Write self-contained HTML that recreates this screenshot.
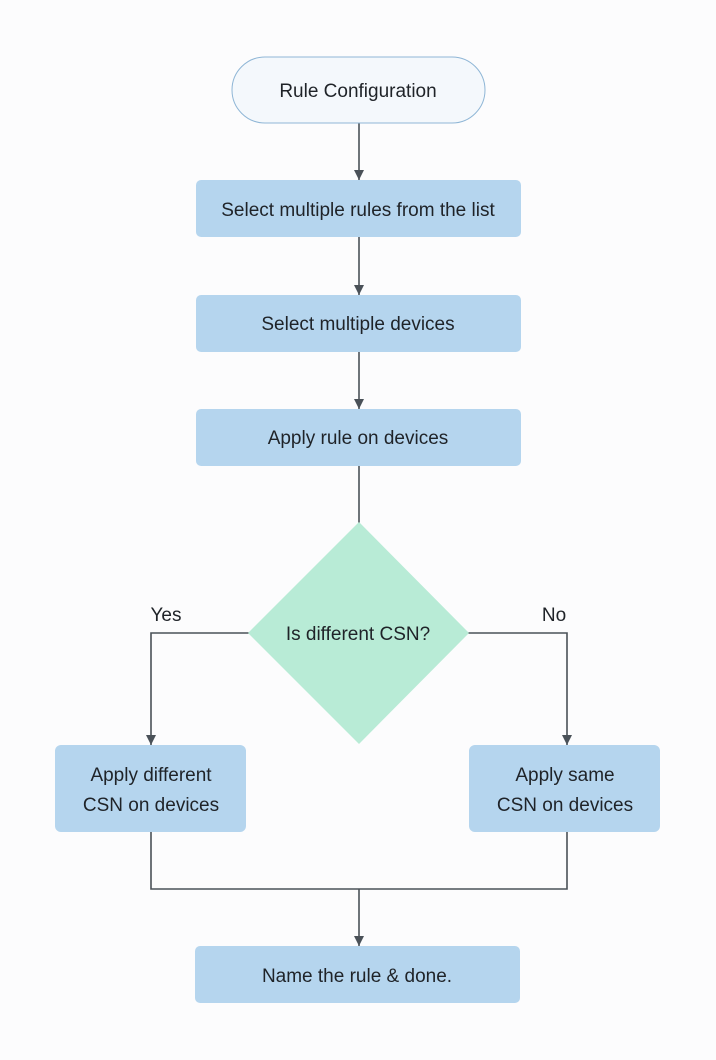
<!DOCTYPE html>
<html><head><style>
html,body{margin:0;padding:0;background:#fcfcfd;}
svg{display:block;}
text{font-family:"Liberation Sans",sans-serif;font-size:19px;fill:#1f2328;}
</style></head><body>
<svg width="716" height="1060" viewBox="0 0 716 1060">
<rect width="716" height="1060" fill="#fcfcfd"/>
<defs><marker id="a" markerWidth="10" markerHeight="10" refX="10" refY="5" orient="auto" markerUnits="userSpaceOnUse"><path d="M0,0 L10,5 L0,10 z" fill="#4a5158"/></marker></defs>
<g stroke="#4a5158" stroke-width="1.6" fill="none">
<line x1="359" y1="123" x2="359" y2="180" marker-end="url(#a)"/>
<line x1="359" y1="237" x2="359" y2="295" marker-end="url(#a)"/>
<line x1="359" y1="352" x2="359" y2="409" marker-end="url(#a)"/>
<line x1="359" y1="466" x2="359" y2="524"/>
<polyline points="250,633 151,633 151,745" marker-end="url(#a)"/>
<polyline points="468,633 567,633 567,745" marker-end="url(#a)"/>
<polyline points="151,832 151,889 567,889 567,832"/>
<line x1="359" y1="889" x2="359" y2="946" marker-end="url(#a)"/>
</g>
<rect x="232" y="57" width="253" height="66" rx="33" fill="#f4f8fc" stroke="#8fb6d6" stroke-width="1"/>
<text x="358" y="97" text-anchor="middle">Rule Configuration</text>
<rect x="196" y="180" width="325" height="57" rx="5" fill="#b5d5ee"/>
<text x="358" y="216" text-anchor="middle">Select multiple rules from the list</text>
<rect x="196" y="295" width="325" height="57" rx="5" fill="#b5d5ee"/>
<text x="358" y="330" text-anchor="middle">Select multiple devices</text>
<rect x="196" y="409" width="325" height="57" rx="5" fill="#b5d5ee"/>
<text x="358" y="444" text-anchor="middle">Apply rule on devices</text>
<polygon points="359,522 469,633 359,744 248,633" fill="#b8ebd6"/>
<text x="358" y="640" text-anchor="middle">Is different CSN?</text>
<text x="166" y="621" text-anchor="middle" fill="#3a4046">Yes</text>
<text x="554" y="621" text-anchor="middle" fill="#3a4046">No</text>
<rect x="55" y="745" width="191" height="87" rx="6" fill="#b5d5ee"/>
<text x="151" y="781" text-anchor="middle">Apply different</text>
<text x="151" y="811" text-anchor="middle">CSN on devices</text>
<rect x="469" y="745" width="191" height="87" rx="6" fill="#b5d5ee"/>
<text x="565" y="781" text-anchor="middle">Apply same</text>
<text x="565" y="811" text-anchor="middle">CSN on devices</text>
<rect x="195" y="946" width="325" height="57" rx="5" fill="#b5d5ee"/>
<text x="357" y="982" text-anchor="middle">Name the rule &amp; done.</text>
</svg>
</body></html>
